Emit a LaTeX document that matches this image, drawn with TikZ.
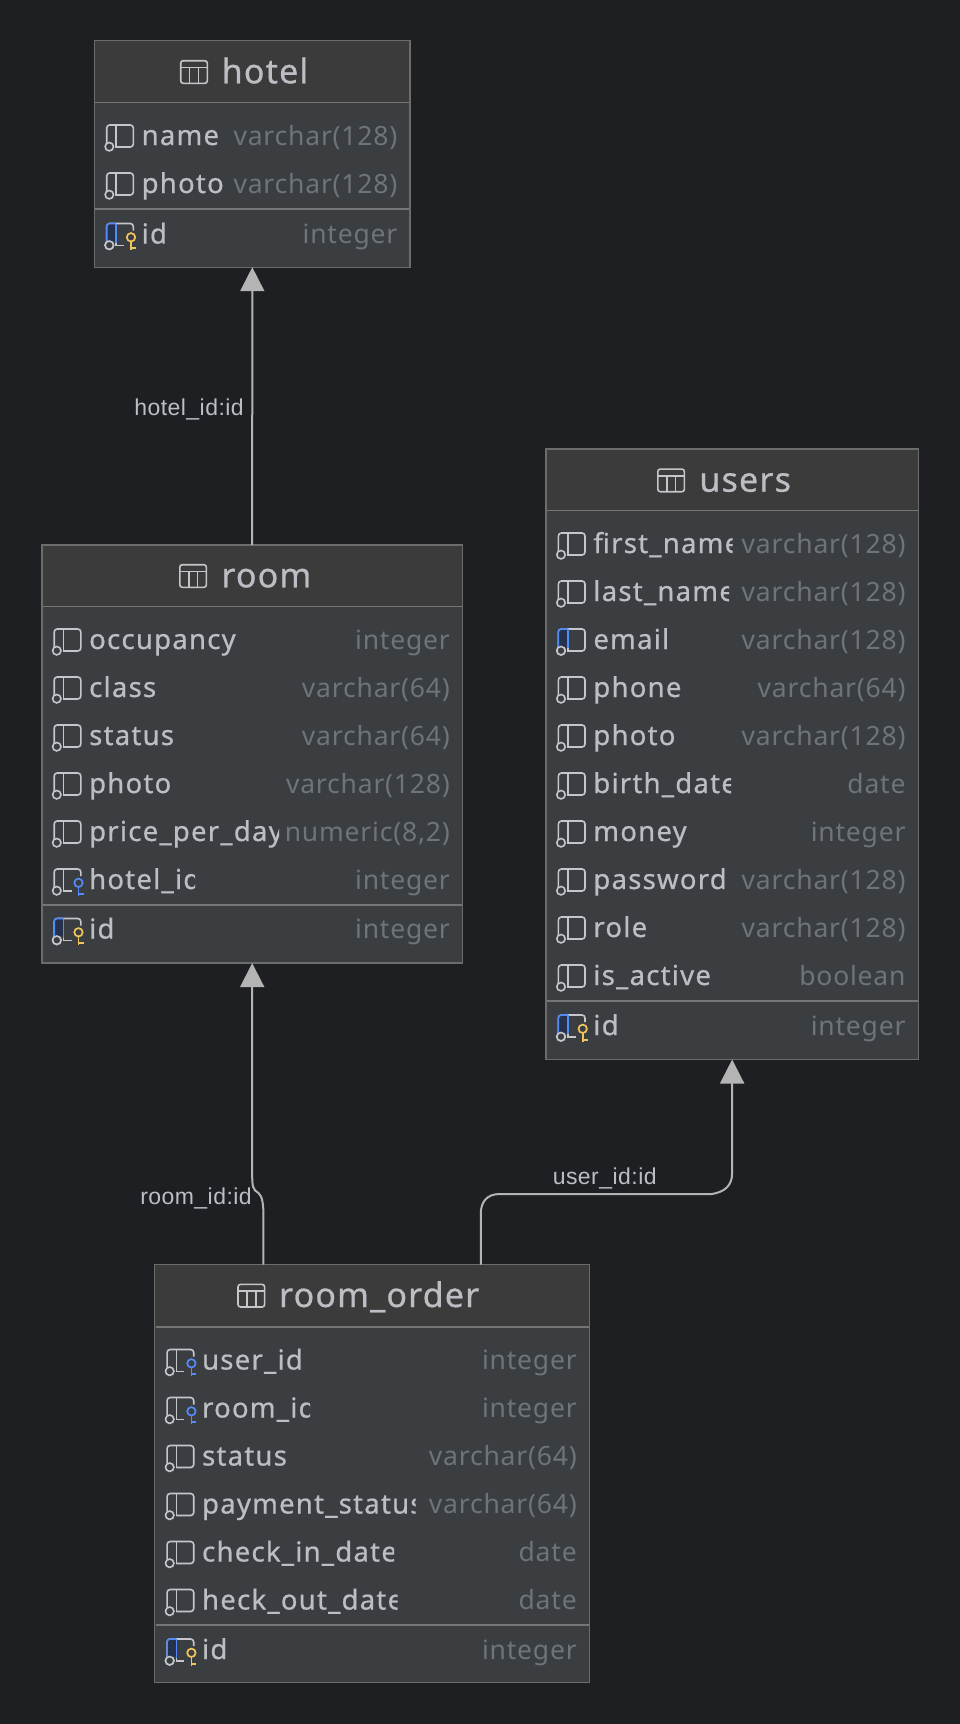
\documentclass[tikz,border=0pt]{standalone}
\usepackage{fontspec}
\setmainfont{Noto Sans}
\newfontfamily\namefont[LetterSpace=4.5,FakeBold=0.6]{Noto Sans}
\newfontfamily\typefont[LetterSpace=3]{Noto Sans}
\newfontfamily\titlefont[LetterSpace=3.5,FakeBold=0.7]{Noto Sans}
\newfontfamily\linkfont[LetterSpace=2]{Liberation Sans}
\usetikzlibrary{arrows.meta,calc}
\definecolor{bgc}{HTML}{1E1F22}
\definecolor{bodyc}{HTML}{3B3E41}
\definecolor{headc}{HTML}{3C3B3B}
\definecolor{edgec}{HTML}{6B6C6C}
\definecolor{sepc}{HTML}{747575}
\definecolor{namec}{HTML}{BCBEC4}
\definecolor{typec}{HTML}{6F737A}
\definecolor{iconc}{HTML}{C4C6CC}
\definecolor{bluec}{HTML}{548AF7}
\definecolor{darkbluec}{HTML}{25324D}
\definecolor{goldc}{HTML}{F2C55C}
\definecolor{linkc}{HTML}{B4B4B4}
\tikzset{
  tablebox/.style={draw=edgec,line width=1.3pt,fill=bodyc,inner sep=0pt,outer sep=0pt,anchor=north west},
  headfill/.style={fill=headc},
  sepline/.style={draw=sepc,line width=1.5pt},
  namelabel/.style={anchor=base west,inner sep=0pt,text=namec,font=\namefont\fontsize{27.5}{32}\selectfont},
  typelabel/.style={anchor=base east,inner sep=0pt,text=typec,font=\typefont\fontsize{26.5}{30}\selectfont},
  titlelabel/.style={anchor=base west,inner sep=0pt,text=namec,font=\titlefont\fontsize{34}{38}\selectfont},
  linklabel/.style={inner sep=0pt,text=namec,font=\linkfont\fontsize{23}{26}\selectfont},
  conn/.style={draw=linkc,line width=2pt},
  connarrow/.style={conn,-{Triangle[width=24pt,length=24pt,fill=linkc]}},
  iconline/.style={draw=iconc,line width=1.6pt},
}
\newcommand{\IconFull}{%
  \draw[iconline,rounded corners=3pt] (1.7,7) -- (1.7,-11) -- (28.3,-11) -- (28.3,11) -- (11,11);
  \draw[iconline] (11,-11) -- (11,11.8);
  \draw[iconline,fill=bodyc] (4.3,10.7) circle[radius=4.2];
}
\newcommand{\IconCut}{%
  \draw[iconline,rounded corners=3pt] (1.7,7) -- (1.7,-11) -- (28.3,-11) -- (28.3,-4);
  \draw[iconline] (11,-11) -- (11,11) -- (19,11);
  \draw[iconline,fill=bodyc] (4.3,10.7) circle[radius=4.2];
}
\newcommand{\BlueBar}{%
  \fill[darkbluec,rounded corners=3pt] (1.7,7) -- (1.7,-11) -- (11,-11) -- (11,7) -- cycle;
  \draw[draw=bluec,line width=1.6pt,rounded corners=3pt] (1.7,7) -- (1.7,-11) -- (11,-11);
  \draw[draw=bluec,line width=1.6pt] (11,-11) -- (11,8);
  \draw[iconline,fill=bodyc] (4.3,10.7) circle[radius=4.2];
}
\newcommand{\KeyMark}[1]{%
  \draw[draw=#1,line width=1.7pt] (26,2.8) circle[radius=4.2];
  \draw[draw=#1,line width=1.7pt] (26,7) -- (26,15.5) (26,13.7) -- (31,13.7);
}
\newcommand{\IcPlain}{\IconFull}
\newcommand{\IcEmail}{\IconFull\BlueBar}
\newcommand{\IcFk}{\IconCut\KeyMark{bluec}}
\newcommand{\IcPk}{\IconCut\BlueBar\KeyMark{goldc}}
% #1 node prefix, #2 box left, #3 box right, #4 row y, #5 name, #6 type, #7 clip x, #8 icon
\newcommand{\Row}[8]{%
  \begin{scope}[shift={(#2+11,#4)}]#8\end{scope}
  \begin{scope}
    \clip (#2+40,#4-24) rectangle (#7,#4+24);
    \node[namelabel] (#1-n) at (#2+47.5,#4+9) {#5};
  \end{scope}
  \node[typelabel] (#1-t) at (#3-12.5,#4+9) {#6};
}
% #1 box node, #2 left, #3 right, #4 top, #5 header line y
\newcommand{\Head}[5]{%
  \fill[headfill] (#2+0.7,#4+0.7) rectangle (#3-0.7,#5);
  \draw[sepline] (#2+0.7,#5) -- (#3-0.7,#5);
}
\newcommand{\Sep}[3]{\draw[sepline] (#1+0.7,#3) -- (#2-0.7,#3);}
% #1 node, #2 icon left, #3 text left, #4 baseline, #5 title
\newcommand{\Title}[5]{%
  \begin{scope}[shift={(#2,#4-11.3)}]
    \draw[iconline,rounded corners=2.5pt] (0,-11.3) rectangle (26.6,11.3);
    \draw[iconline] (0,-4.5) -- (26.6,-4.5) (8.9,-4.5) -- (8.9,11.3) (17.7,-4.5) -- (17.7,11.3);
  \end{scope}
  \node[titlelabel] (#1) at (#3-1.5,#4) {#5};
}
\begin{document}
\begin{tikzpicture}[x=1pt,y=-1pt]
\useasboundingbox (0,0) rectangle (960,1724);
\fill[bgc] (0,0) rectangle (960,1724);

% ---------- hotel
\node[tablebox,minimum width=315.4pt,minimum height=226.6pt] (hotel) at (94.6,40.6) {};
\Head{hotel}{94.6}{410}{40.6}{102.7}
\Title{hotel-title}{180.7}{223}{83.3}{hotel}
\Row{h1}{94}{410}{136}{name}{varchar(128)}{990}{\IcPlain}
\Row{h2}{94}{410}{184}{photo}{varchar(128)}{990}{\IcPlain}
\Sep{94.6}{410}{209}
\Row{h3}{94}{410}{234.5}{id}{integer}{990}{\IcPk}

% ---------- room
\node[tablebox,minimum width=420.6pt,minimum height=418pt] (room) at (41.9,545.1) {};
\Head{room}{41.9}{462.5}{545.1}{606.7}
\Title{room-title}{179.8}{222.7}{587.3}{room}
\Row{r1}{41.5}{462.5}{640}{occupancy}{integer}{990}{\IcPlain}
\Row{r2}{41.5}{462.5}{688}{class}{varchar(64)}{990}{\IcPlain}
\Row{r3}{41.5}{462.5}{736}{status}{varchar(64)}{990}{\IcPlain}
\Row{r4}{41.5}{462.5}{784}{photo}{varchar(128)}{990}{\IcPlain}
\Row{r5}{41.5}{462.5}{832}{price\_per\_day}{numeric(8,2)}{279}{\IcPlain}
\Row{r6}{41.5}{462.5}{880}{hotel\_id}{integer}{195}{\IcFk}
\Sep{41.9}{462.5}{905}
\Row{r7}{41.5}{462.5}{929.5}{id}{integer}{990}{\IcPk}

% ---------- users
\node[tablebox,minimum width=372.1pt,minimum height=610.6pt] (users) at (546.1,448.9) {};
\Head{users}{546.1}{918.2}{448.9}{510.7}
\Title{users-title}{657.8}{700.7}{491.7}{users}
\Row{u1}{545.7}{918.2}{544}{first\_name}{varchar(128)}{732.7}{\IcPlain}
\Row{u2}{545.7}{918.2}{592}{last\_name}{varchar(128)}{729}{\IcPlain}
\Row{u3}{545.7}{918.2}{640}{email}{varchar(128)}{990}{\IcEmail}
\Row{u4}{545.7}{918.2}{688}{phone}{varchar(64)}{990}{\IcPlain}
\Row{u5}{545.7}{918.2}{736}{photo}{varchar(128)}{990}{\IcPlain}
\Row{u6}{545.7}{918.2}{784}{birth\_date}{date}{731}{\IcPlain}
\Row{u7}{545.7}{918.2}{832}{money}{integer}{990}{\IcPlain}
\Row{u8}{545.7}{918.2}{880}{password}{varchar(128)}{728}{\IcPlain}
\Row{u9}{545.7}{918.2}{928}{role}{varchar(128)}{990}{\IcPlain}
\Row{u10}{545.7}{918.2}{976}{is\_active}{boolean}{711.5}{\IcPlain}
\Sep{546.1}{918.2}{1001}
\Row{u11}{545.7}{918.2}{1026}{id}{integer}{990}{\IcPk}

% ---------- room_order
\node[tablebox,minimum width=434.6pt,minimum height=418pt] (order) at (154.8,1264.7) {};
\Head{order}{154.8}{589.4}{1264.7}{1327}
\Title{order-title}{238}{280.4}{1307}{room\_order}
\Row{o1}{154.4}{589.4}{1360.5}{user\_id}{integer}{990}{\IcFk}
\Row{o2}{154.4}{589.4}{1408.5}{room\_id}{integer}{310}{\IcFk}
\Row{o3}{154.4}{589.4}{1456.5}{status}{varchar(64)}{990}{\IcPlain}
\Row{o4}{154.4}{589.4}{1504.5}{payment\_status}{varchar(64)}{415.7}{\IcPlain}
\Row{o5}{154.4}{589.4}{1552.5}{check\_in\_date}{date}{394}{\IcPlain}
\Row{o6}{154.4}{589.4}{1600.5}{heck\_out\_date}{date}{397.7}{\IcPlain}
\Sep{154.8}{589.4}{1625}
\Row{o7}{154.4}{589.4}{1650}{id}{integer}{990}{\IcPk}

% ---------- connectors
\coordinate (oa) at ($(order.north west)!.25!(order.north east)$);
\coordinate (ob) at ($(order.north west)!.75!(order.north east)$);
\draw[connarrow] (room.north) -- (hotel.south);
\draw[connarrow] (oa) -- (oa |- 0,1216) .. controls (oa |- 0,1205) and ($(oa |- 0,1196)+(-1,0)$) .. ($(oa |- 0,1194)+(-5,-1)$)
  .. controls ($(room.south |- 0,1190)+(0.5,0)$) and (room.south |- 0,1186) .. (room.south |- 0,1174) -- (room.south);
\draw[connarrow] (ob) -- (ob |- 0,1214) .. controls (ob |- 0,1202) and ($(ob |- 0,1194)+(6,0)$) .. ($(ob |- 0,1194)+(19,0)$)
  -- (712,1194) .. controls ($(users.south |- 0,1194)+(-8,-2)$) and ($(users.south |- 0,1186)$) .. (users.south |- 0,1173) -- (users.south);

% ---------- connector labels
\node[linklabel,anchor=base east] (lab1) at (244,415) {hotel\_id:id};
\node[linklabel,anchor=base east] (lab2) at (252,1204) {room\_id:id};
\node[linklabel,anchor=base west] (lab3) at (552.6,1184) {user\_id:id};
\end{tikzpicture}
\end{document}
